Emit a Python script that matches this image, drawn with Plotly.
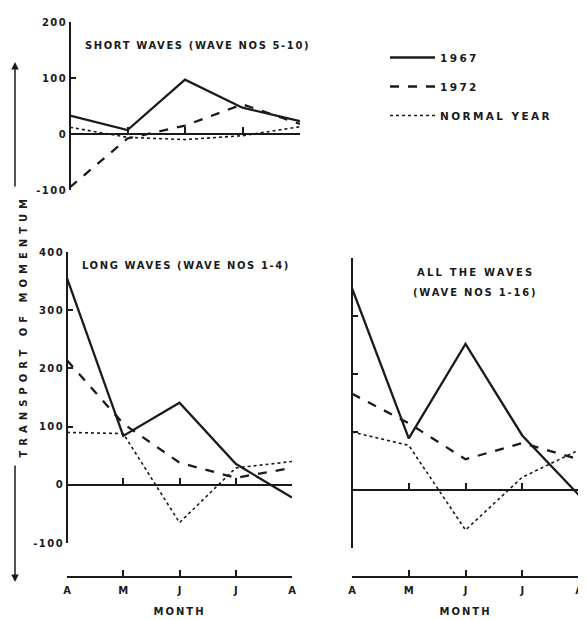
import plotly.graph_objects as go

W, H = 586, 620
OFF = 8  # page body margin
FW, FH = W - OFF, H - OFF

months = ["A", "M", "J", "J", "A"]
mi = [0, 1, 2, 3, 4]

# Short waves (wave nos 5-10)
short_1967 = [33, 7, 97, 47, 23]
short_1972 = [-95, -8, 15, 53, 18]
short_normal = [12, -6, -10, -3, 13]
# Long waves (wave nos 1-4)
long_1967 = [355, 84, 141, 36, -22]
long_1972 = [214, 105, 38, 12, 29]
long_normal = [90, 88, -65, 29, 40]
# All the waves (wave nos 1-16)
all_1967 = [348, 89, 252, 94, -9]
all_1972 = [166, 115, 53, 81, 53]
all_normal = [100, 77, -69, 22, 69]

y_ticks_top = [-100, 0, 100, 200]
y_ticks_bottom = [-100, 0, 100, 200, 300, 400]

INK = "#1a1a1a"
FONT = "DejaVu Sans"


def sp(t, ls=2):
    return f'<span style="letter-spacing:{ls}px">{t}</span>'


def fx(p):
    return (p - OFF) / FW


def fy(p):
    return 1 - (p - OFF) / FH


def zero_pos(dom, rng):
    return dom[0] + (0 - rng[0]) / (rng[1] - rng[0]) * (dom[1] - dom[0])


styles = {
    "1967": dict(color=INK, width=2.3, dash="solid"),
    "1972": dict(color=INK, width=2.3, dash="dash"),
    "NORMAL YEAR": dict(color=INK, width=1.6, dash="dot"),
}

fig = go.Figure()


def add(xa, ya, x, y, name, show):
    fig.add_trace(go.Scatter(
        x=x, y=y, mode="lines", name=sp(name, 2.4), line=styles[name],
        xaxis=xa, yaxis=ya, showlegend=show, legendgroup=name,
        hoverinfo="skip"))


add("x", "y", mi, short_1967, "1967", True)
add("x", "y", mi, short_1972, "1972", True)
add("x", "y", mi, short_normal, "NORMAL YEAR", True)

add("x4", "y2", mi, long_1967, "1967", False)
add("x2", "y2", mi, long_1972, "1972", False)
add("x2", "y2", mi, long_normal, "NORMAL YEAR", False)

add("x5", "y3", mi, all_1967, "1967", False)
add("x3", "y3", mi, all_1972, "1972", False)
add("x3", "y3", mi, all_normal, "NORMAL YEAR", False)

tickfont = dict(family=FONT, size=10, color=INK, weight="bold")

dom_top = [fy(190), fy(22)]
rng_top = [-100, 200]
dom_long = [fy(543), fy(252)]
rng_long = [-100, 400]
dom_all = [fy(548), fy(258)]
rng_all = [-100, 400]

xd_top = [fx(70), fx(300)]
xd_long = [fx(67), fx(292)]
xd_all = [fx(352), fx(579)]

common_x = dict(range=[0, 4], tickvals=mi, showgrid=False, zeroline=False,
                showline=True, linecolor=INK, linewidth=1.5,
                ticks="inside", ticklen=6, tickwidth=1.5, tickcolor=INK,
                fixedrange=True, automargin=False)
common_y = dict(showgrid=False, zeroline=False, showline=True, linecolor=INK,
                linewidth=1.5, ticks="inside", ticklen=5, tickwidth=1.5,
                tickcolor=INK, anchor="free", tickfont=tickfont,
                fixedrange=True, automargin=False)

month_pos = fy(577)
month_text = [sp(m, 0) for m in months]

fig.update_layout(
    width=FW, height=FH,
    margin=dict(l=0, r=0, t=0, b=0, pad=0, autoexpand=False),
    paper_bgcolor="white", plot_bgcolor="rgba(0,0,0,0)",
    xaxis=dict(common_x, domain=xd_top, anchor="free",
               position=zero_pos(dom_top, rng_top), showticklabels=False),
    yaxis=dict(common_y, domain=dom_top, range=rng_top, position=xd_top[0],
               tickvals=y_ticks_top,
               ticktext=[sp(str(v), 1.5) for v in y_ticks_top]),
    xaxis2=dict(common_x, domain=xd_long, anchor="free", position=month_pos,
                ticktext=month_text, tickfont=tickfont,
                ticklabelstandoff=4, ticklabeloverflow="allow",
                title=dict(text=sp("MONTH", 2), font=tickfont, standoff=12)),
    yaxis2=dict(common_y, domain=dom_long, range=rng_long, position=xd_long[0],
                tickvals=y_ticks_bottom,
                ticktext=[sp(str(v), 1.5) for v in y_ticks_bottom]),
    xaxis4=dict(common_x, overlaying="x2", anchor="free",
                position=zero_pos(dom_long, rng_long), showticklabels=False),
    xaxis3=dict(common_x, domain=xd_all, anchor="free", position=month_pos,
                ticktext=month_text, tickfont=tickfont,
                ticklabelstandoff=4, ticklabeloverflow="allow",
                title=dict(text=sp("MONTH", 2), font=tickfont, standoff=12)),
    yaxis3=dict(common_y, domain=dom_all, range=rng_all, position=xd_all[0],
                tickvals=y_ticks_bottom, showticklabels=False),
    xaxis5=dict(common_x, overlaying="x3", anchor="free",
                position=zero_pos(dom_all, rng_all), showticklabels=False),
    legend=dict(x=fx(385), y=fy(43), xanchor="left", yanchor="top",
                font=dict(family=FONT, size=10.5, color=INK, weight="bold"),
                traceorder="grouped", tracegroupgap=10, itemwidth=45,
                bgcolor="rgba(0,0,0,0)"),
    showlegend=True,
)

ann_font = dict(family=FONT, size=10, color=INK, weight="bold")
fig.add_annotation(x=fx(83), y=fy(45), xref="paper", yref="paper",
                   text=sp("SHORT WAVES (WAVE NOS 5-10)", 1.6), showarrow=False,
                   xanchor="left", yanchor="middle", font=ann_font)
fig.add_annotation(x=fx(80), y=fy(265), xref="paper", yref="paper",
                   text=sp("LONG WAVES (WAVE NOS 1-4)", 1.6), showarrow=False,
                   xanchor="left", yanchor="middle", font=ann_font)
fig.add_annotation(x=fx(475), y=fy(272), xref="paper", yref="paper",
                   text=sp("ALL THE WAVES", 2.2),
                   showarrow=False, xanchor="center", yanchor="middle",
                   font=ann_font)
fig.add_annotation(x=fx(475), y=fy(292), xref="paper", yref="paper",
                   text=sp("(WAVE NOS 1-16)", 1.8),
                   showarrow=False, xanchor="center", yanchor="middle",
                   font=ann_font)

# Y label with arrows
fig.add_annotation(x=fx(15), y=fy(326), xref="paper", yref="paper",
                   text=sp("TRANSPORT OF MOMENTUM", 5),
                   textangle=-90, showarrow=False, font=ann_font)
fig.add_annotation(x=fx(15), y=fy(62), xref="paper", yref="paper", text="",
                   showarrow=True, ax=0, ay=126, arrowhead=2, arrowsize=1,
                   arrowwidth=1.5, arrowcolor=INK)
fig.add_annotation(x=fx(15), y=fy(582), xref="paper", yref="paper", text="",
                   showarrow=True, ax=0, ay=-118, arrowhead=2, arrowsize=1,
                   arrowwidth=1.5, arrowcolor=INK)

fig.write_html("out.html")
